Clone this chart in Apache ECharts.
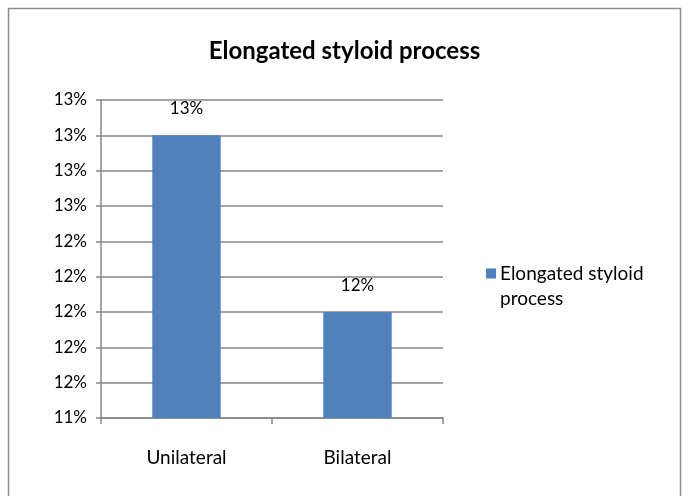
<!DOCTYPE html>
<html>
<head>
<meta charset="utf-8">
<script src="https://cdn.jsdelivr.net/npm/echarts@6/dist/echarts.min.js"></script>
<style>
  html, body { margin: 0; padding: 0; background: #fff; }
  #chart { width: 689px; height: 496px; }
</style>
</head>
<body>
<div id="chart"></div>
<script>
// data
var categories = ['Unilateral', 'Bilateral'];
var seriesName = 'Elongated styloid process';
var values = [13, 12];
var yMin = 11.4, yMax = 13.2, yStep = 0.2;

var font = 'Lato, "Open Sans", sans-serif';
var chart = echarts.init(document.getElementById('chart'));

chart.setOption({
  animation: false,
  backgroundColor: '#fff',
  title: {
    text: seriesName,
    left: 'center',
    top: 34,
    textStyle: { fontFamily: font, fontSize: 24, fontWeight: 'bold', color: '#000' }
  },
  graphic: [
    {
      type: 'rect',
      shape: { x: 8.5, y: 8.5, width: 672, height: 500 },
      style: { fill: 'none', stroke: '#8c8c8c', lineWidth: 1.5 },
      silent: true
    },
    {
      // second line of the legend label
      type: 'text',
      left: 500,
      top: 289,
      style: { text: 'process', fontFamily: font, fontSize: 19, fill: '#000' },
      silent: true
    }
  ],
  legend: {
    orient: 'vertical',
    left: 481,
    top: 259,
    itemWidth: 10,
    itemHeight: 10,
    icon: 'rect',
    formatter: function () { return 'Elongated styloid'; },
    textStyle: { fontFamily: font, fontSize: 19, color: '#000', padding: [0, 0, 0, -1] },
    data: [seriesName]
  },
  grid: { left: 101, right: 246, top: 100, bottom: 78 },
  xAxis: {
    type: 'category',
    data: categories,
    axisLine: { lineStyle: { color: '#868686', width: 1.5 } },
    axisTick: { show: true, length: 6, lineStyle: { color: '#868686', width: 1.5 } },
    axisLabel: { margin: 30, fontFamily: font, fontSize: 19, color: '#000' }
  },
  yAxis: {
    type: 'value',
    min: yMin,
    max: yMax,
    interval: yStep,
    axisLine: { show: true, lineStyle: { color: '#868686', width: 1.5 } },
    axisTick: { show: true, length: 5, lineStyle: { color: '#868686', width: 1.5 } },
    splitLine: { lineStyle: { color: '#868686', width: 1.5 } },
    axisLabel: {
      margin: 14,
      fontFamily: font,
      fontSize: 17,
      color: '#000',
      formatter: function (v) { return Math.round(v) + '%'; }
    }
  },
  series: [{
    name: seriesName,
    type: 'bar',
    data: values,
    barWidth: '40%',
    itemStyle: { color: '#4f81bd' },
    label: {
      show: true,
      position: 'top',
      distance: 18,
      fontFamily: font,
      fontSize: 17,
      color: '#000',
      formatter: function (p) { return Math.round(p.value) + '%'; }
    }
  }]
});
</script>
</body>
</html>
